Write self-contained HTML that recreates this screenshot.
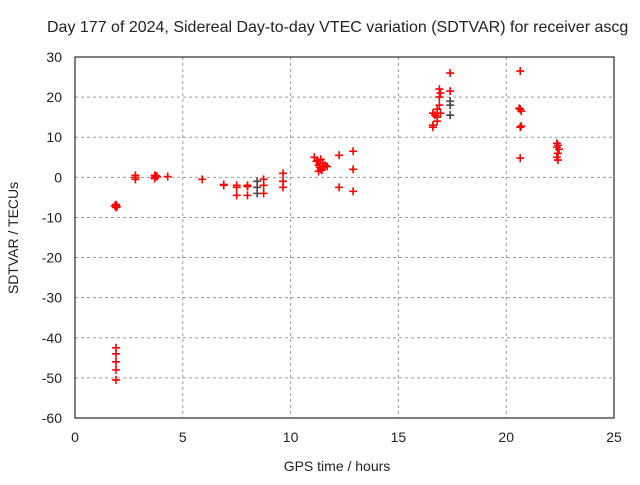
<!DOCTYPE html>
<html><head><meta charset="utf-8"><style>
body{margin:0;background:#fff}
svg text{font-family:"Liberation Sans",sans-serif;font-size:14px;fill:#222}
</style></head><body>
<svg id="chart" width="640" height="480">
<text x="47" y="32" style="font-size:16px">Day 177 of 2024, Sidereal Day-to-day VTEC variation (SDTVAR) for receiver ascg</text>
<text x="337" y="471" text-anchor="middle">GPS time / hours</text>
<text transform="translate(18,238) rotate(-90)" text-anchor="middle">SDTVAR / TECUs</text>
<g id="grid"></g><g id="marks"></g>
<rect x="75" y="57" width="539" height="361" fill="none" stroke="#000"/>
</svg>
<script>
const xTicks=[0,5,10,15,20,25];
const yTicks=[30,20,10,0,-10,-20,-30,-40,-50,-60];
const redX=[1.9,1.9,1.9,1.95,1.85,1.9,1.9,1.9,1.9,1.9,2.8,2.8,2.8,3.7,3.7,3.7,3.8,3.75,4.3,5.9,6.9,6.9,7.5,7.5,7.5,8.0,8.0,8.0,8.75,8.75,8.75,9.65,9.65,9.65,11.1,11.2,11.3,11.3,11.4,11.4,11.5,11.5,11.6,11.7,11.25,11.35,11.45,12.25,12.25,12.9,12.9,12.9,16.6,16.6,16.6,16.7,16.8,16.8,16.8,16.9,16.9,16.9,16.95,16.95,17.4,17.4,20.65,20.65,20.7,20.6,20.65,20.7,20.65,22.35,22.35,22.4,22.35,22.4,22.45,22.4];
const redY=[-7,-7.5,-6.8,-7.3,-7.1,-42.5,-44,-46,-48,-50.5,0.5,-0.5,0,0,0.5,-0.3,0.2,0.4,0.2,-0.5,-2,-1.8,-2,-4.5,-2.5,-2,-4.5,-2.3,-0.5,-2,-4,1,-1,-2.5,5,4,3,1.5,4.5,2,3.5,2.5,3,2.7,4.2,2.5,1.8,5.5,-2.5,6.5,2,-3.5,16,13,12.5,15.5,17,15,14,22,20,18,21,16,26,21.5,26.5,17,16.5,17.2,12.5,12.8,4.8,8.5,7.5,6,5,4.3,7,8];
const grayX=[8.45,8.45,8.45,17.4,17.4,17.4];
const grayY=[-1,-2.5,-4,19,18,15.5];
const X=h=>75+h*539/25, Y=v=>57+(30-v)*361/90;
const NS="http://www.w3.org/2000/svg";
const svg=document.getElementById('chart'),grid=document.getElementById('grid'),marks=document.getElementById('marks');
function mk(t,a,p){const e=document.createElementNS(NS,t);for(const k in a)e.setAttribute(k,a[k]);p.appendChild(e);return e;}
xTicks.forEach(t=>{
 if(t>0&&t<25){const l=mk('line',{x1:X(t),x2:X(t),y1:57,y2:418,stroke:'#999','stroke-dasharray':'3,3'},grid);
 
 }
 const tx=mk('text',{x:X(t),y:442,'text-anchor':'middle'},svg);tx.textContent=t;
 
 
});
yTicks.forEach(t=>{
 if(t<30&&t>-60){const l=mk('line',{x1:75,x2:614,y1:Y(t),y2:Y(t),stroke:'#999','stroke-dasharray':'3,3'},grid);
 
 }
 const tx=mk('text',{x:62,y:Y(t)+5,'text-anchor':'end'},svg);tx.textContent=t;
 
 
});
function plus(h,v,c){const x=X(h),y=Y(v);
 const p=mk('path',{d:`M${x-4} ${y}H${x+4}M${x} ${y-4}V${y+4}`,stroke:c,'stroke-width':1.6},marks);
 
 }
grayX.forEach((h,i)=>plus(h,grayY[i],'#444'));
redX.forEach((h,i)=>plus(h,redY[i],'#f00'));
</script>
</body></html>
